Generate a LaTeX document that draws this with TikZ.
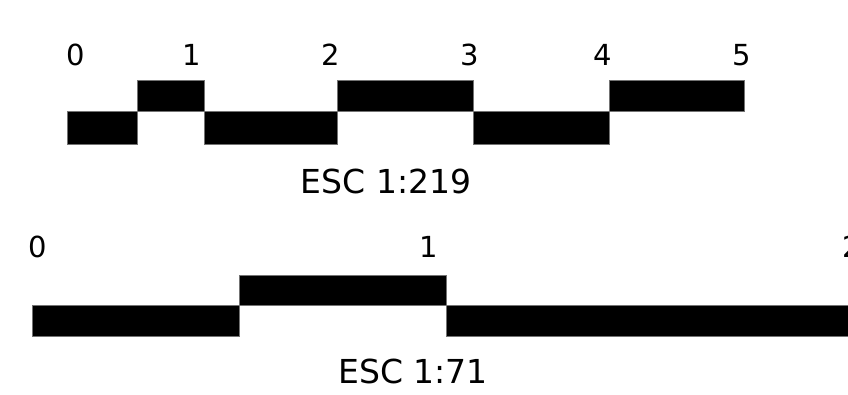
\documentclass[tikz,border=0pt]{standalone}
\usepackage{fontspec}
\setmainfont{DejaVu Sans}
\usepackage{tikz}

\begin{document}
\begin{tikzpicture}[x=1pt, y=-1pt,
    bar/.style={fill=black, draw=black!55, line width=0.5pt},
    tick/.style={font=\fontsize{29}{29}\selectfont, anchor=base, inner sep=0pt},
    esclabel/.style={font=\fontsize{33}{33}\selectfont, anchor=base, inner sep=0pt}
]
\useasboundingbox (0,0) rectangle (848,394);
% upper scale, 1:219
\draw[bar] (67,111) rectangle (137,144);
\draw[bar] (137,80) rectangle (204,111);
\draw[bar] (204,111) rectangle (337,144);
\draw[bar] (337,80) rectangle (473,111);
\draw[bar] (473,111) rectangle (609,144);
\draw[bar] (609,80) rectangle (744,111);
\foreach \x/\t in {76/0, 192/1, 331/2, 470/3, 603/4, 742/5}
  \node[tick] (top\t) at (\x,65) {\t};
\node[esclabel] (esctop) at (386,193) {ESC 1:219};
% lower scale, 1:71
\draw[bar] (32,305) rectangle (239,336);
\draw[bar] (239,275) rectangle (446,305);
\draw[bar] (446,305) rectangle (860,336);
\foreach \x/\t in {38/0, 429/1, 852/2}
  \node[tick] (bot\t) at (\x,257) {\t};
\node[esclabel] (escbot) at (413,383) {ESC 1:71};
\end{tikzpicture}
\end{document}
